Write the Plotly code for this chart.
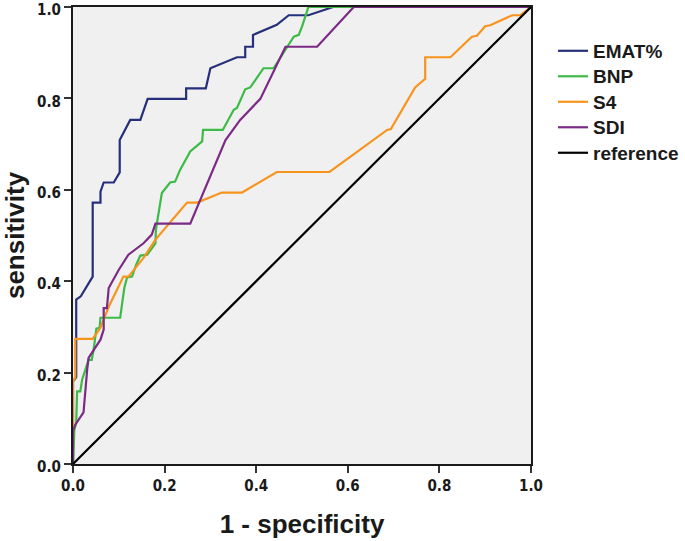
import plotly.graph_objects as go

# ROC curve data (1 - specificity, sensitivity)
emat_x = [0, 0, 0.007, 0.007, 0.017, 0.043, 0.043, 0.06, 0.06, 0.067, 0.089, 0.102, 0.102, 0.125, 0.147, 0.163,
          0.247, 0.247, 0.29, 0.30, 0.358, 0.376, 0.376, 0.393, 0.393, 0.445, 0.471, 0.514, 0.568, 1.0]
emat_y = [0, 0.18, 0.19, 0.36, 0.367, 0.41, 0.572, 0.572, 0.596, 0.616, 0.616, 0.638, 0.709, 0.753, 0.753, 0.799,
          0.799, 0.822, 0.822, 0.866, 0.89, 0.89, 0.913, 0.913, 0.939, 0.961, 0.982, 0.982, 1.0, 1.0]

bnp_x = [0, 0.003, 0.007, 0.009, 0.016, 0.02, 0.034, 0.041, 0.045, 0.051, 0.058, 0.06, 0.103, 0.112, 0.118, 0.129,
         0.138, 0.147, 0.162, 0.18, 0.181, 0.194, 0.212, 0.223, 0.234, 0.256, 0.282, 0.284, 0.327, 0.351, 0.358,
         0.376, 0.387, 0.416, 0.438, 0.467, 0.482, 0.493, 0.50, 0.514, 1.0]
bnp_y = [0, 0.075, 0.09, 0.159, 0.159, 0.185, 0.228, 0.228, 0.25, 0.296, 0.298, 0.32, 0.32, 0.385, 0.408, 0.41,
         0.436, 0.456, 0.458, 0.483, 0.513, 0.593, 0.616, 0.618, 0.644, 0.684, 0.706, 0.731, 0.731, 0.775, 0.779,
         0.82, 0.824, 0.866, 0.866, 0.91, 0.935, 0.939, 0.957, 1.0, 1.0]

s4_x = [0, 0, 0.005, 0.005, 0.043, 0.06, 0.078, 0.11, 0.121, 0.154, 0.18, 0.249, 0.271, 0.325, 0.369, 0.445,
        0.56, 0.686, 0.694, 0.747, 0.769, 0.769, 0.824, 0.871, 0.882, 0.90, 0.911, 0.959, 0.977, 1.0]
s4_y = [0, 0.18, 0.19, 0.274, 0.274, 0.298, 0.344, 0.41, 0.41, 0.451, 0.491, 0.572, 0.572, 0.594, 0.594, 0.639,
        0.639, 0.731, 0.733, 0.824, 0.843, 0.89, 0.89, 0.935, 0.937, 0.958, 0.96, 0.982, 0.982, 1.0]

sdi_x = [0, 0, 0.005, 0.023, 0.031, 0.034, 0.06, 0.067, 0.067, 0.074, 0.078, 0.10, 0.121, 0.154, 0.172, 0.18,
         0.256, 0.333, 0.365, 0.409, 0.464, 0.533, 0.613, 1.0]
sdi_y = [0, 0.072, 0.086, 0.113, 0.207, 0.232, 0.272, 0.294, 0.341, 0.341, 0.385, 0.425, 0.458, 0.483, 0.502, 0.526,
         0.526, 0.709, 0.753, 0.799, 0.913, 0.913, 1.0, 1.0]

ref_x = [0, 1]
ref_y = [0, 1]

series_names = ["EMAT%", "BNP", "S4", "SDI", "reference"]
series_colors = ["#26307a", "#3dba47", "#f7941d", "#7b2a85", "#000000"]
tick_vals = [0.0, 0.2, 0.4, 0.6, 0.8, 1.0]
tick_text = ["0.0", "0.2", "0.4", "0.6", "0.8", "1.0"]

fig = go.Figure()
for name, xs, ys, col in zip(series_names,
                             [emat_x, bnp_x, s4_x, sdi_x, ref_x],
                             [emat_y, bnp_y, s4_y, sdi_y, ref_y],
                             series_colors):
    fig.add_trace(go.Scatter(x=xs, y=ys, mode="lines",
                             name='<span style="font-size:19px">' + name + '</span>',
                             line=dict(color=col, width=2.2)))

tick_font = dict(family="Liberation Sans Narrow, Arial Narrow, DejaVu Sans Condensed, sans-serif",
                 size=15, color="#1a1a1a", weight="bold")
title_font = dict(family="Liberation Sans, Arial, sans-serif", size=26, color="#1a1a1a", weight="bold")

axis_common = dict(range=[0, 1], tickvals=tick_vals, ticktext=tick_text, showgrid=False, zeroline=False,
                   showline=True, linecolor="#1a1a1a", linewidth=2, mirror=True,
                   ticks="outside", ticklen=7, tickwidth=1.5, tickcolor="#333333",
                   tickfont=tick_font, automargin=False, ticklabeloverflow="allow")

fig.update_layout(
    width=685, height=541,
    margin=dict(l=73, r=154, t=7, b=77, autoexpand=False),
    paper_bgcolor="white", plot_bgcolor="#f0f0f0",
    xaxis=dict(axis_common,
               title=dict(text="1 - specificity", font=title_font, standoff=21)),
    yaxis=dict(axis_common, ticklabelshift=3,
               title=dict(text="sensitivity", font=title_font, standoff=25)),
    legend=dict(x=1.048, y=0.943, xanchor="left", yanchor="top", bgcolor="rgba(0,0,0,0)",
                font=dict(family="Liberation Sans, Arial, sans-serif", size=17.3, color="#1a1a1a", weight="bold"),
                itemwidth=30, tracegroupgap=0),
    showlegend=True,
)

# remove the browser's default 8px body margin so the figure fills the window exactly
fig.write_html("out.html", config={"displayModeBar": False},
               post_script="document.body.style.margin='0';")
